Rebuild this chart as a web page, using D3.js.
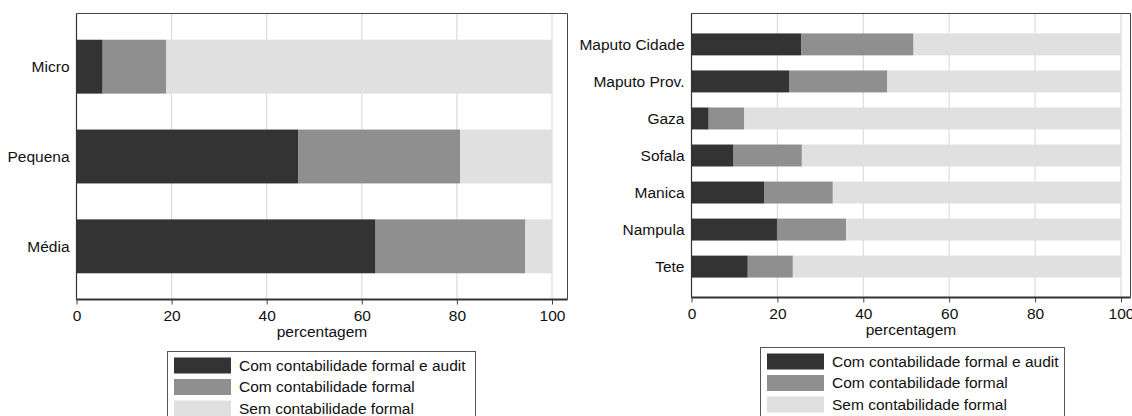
<!DOCTYPE html>
<html>
<head>
<meta charset="utf-8">
<script src="https://cdn.jsdelivr.net/npm/d3@7"></script>
<style>
  body { margin: 0; background: #fff; }
  text { font-family: "Liberation Sans", Arial, sans-serif; fill: #111; }
</style>
</head>
<body>
<div id="chart"></div>
<script>
// series names (legend)
var seriesNames = ["Com contabilidade formal e audit", "Com contabilidade formal", "Sem contabilidade formal"];
var seriesColors = ["#333333", "#8f8f8f", "#e0e0e0"];
var xTicks = [0, 20, 40, 60, 80, 100];

// left panel: by firm size
var sizeCats = ["Micro", "Pequena", "Média"];
var sizeAudit = [5.5, 46.6, 62.9];
var sizeFormal = [13.4, 34.1, 31.5];
var sizeNone = [81.1, 19.3, 5.6];

// right panel: by province
var provCats = ["Maputo Cidade", "Maputo Prov.", "Gaza", "Sofala", "Manica", "Nampula", "Tete"];
var provAudit = [25.6, 22.7, 4.0, 9.8, 17.0, 19.9, 13.1];
var provFormal = [26.1, 22.9, 8.3, 15.9, 15.9, 16.1, 10.5];
var provNone = [48.3, 54.4, 87.7, 74.3, 67.1, 64.0, 76.4];

var fontSize = "15.5px";

var svg = d3.select("#chart").append("svg")
    .attr("width", 1132)
    .attr("height", 416);

var keys = ["audit", "formal", "none"];
var color = d3.scaleOrdinal().domain(keys).range(seriesColors);

function drawPanel(p) {
  var rows = p.cats.map(function(c, i) {
    return {cat: c, audit: p.audit[i], formal: p.formal[i], none: p.none[i]};
  });

  var x = d3.scaleLinear().domain([0, 100]).range([p.x0, p.x100]);
  var y = d3.scaleBand().domain(p.cats)
      .range([p.top, p.axisY])
      .paddingInner(p.padIn)
      .paddingOuter(p.padOut);

  var g = svg.append("g");

  // gridlines
  g.selectAll(".grid")
      .data(xTicks.slice(1))
      .enter().append("line")
      .attr("x1", function(d) { return x(d); })
      .attr("x2", function(d) { return x(d); })
      .attr("y1", p.top)
      .attr("y2", p.axisY)
      .attr("stroke", "#dcdcdc")
      .attr("stroke-width", 1.2);

  // stacked bars
  var stacked = d3.stack().keys(keys)(rows);
  g.selectAll(".layer")
      .data(stacked)
      .enter().append("g")
      .attr("fill", function(d) { return color(d.key); })
      .selectAll("rect")
      .data(function(d) { return d; })
      .enter().append("rect")
      .attr("x", function(d) { return x(d[0]); })
      .attr("width", function(d) { return x(d[1]) - x(d[0]); })
      .attr("y", function(d) { return y(d.data.cat); })
      .attr("height", y.bandwidth());

  // frame: top and right
  g.append("path")
      .attr("d", "M" + p.x0 + "," + p.top + "H" + p.right + "V" + p.axisY)
      .attr("fill", "none")
      .attr("stroke", "#444")
      .attr("stroke-width", 1);

  // left axis line
  g.append("line")
      .attr("x1", p.x0).attr("x2", p.x0)
      .attr("y1", p.top).attr("y2", p.axisY)
      .attr("stroke", "#333").attr("stroke-width", 1.2);

  // category labels
  g.selectAll(".ylab")
      .data(p.cats)
      .enter().append("text")
      .attr("x", p.x0 - 7)
      .attr("y", function(d) { return y(d) + y.bandwidth() / 2; })
      .attr("dy", "0.35em")
      .attr("text-anchor", "end")
      .style("font-size", fontSize)
      .text(function(d) { return d; });

  // x axis
  var ax = g.append("g")
      .attr("transform", "translate(0," + p.axisY + ")")
      .call(d3.axisBottom(x).tickValues(xTicks).tickSize(5).tickPadding(5));
  ax.select(".domain").remove();
  ax.append("line")
      .attr("x1", p.x0).attr("x2", p.right)
      .attr("stroke", "#333").attr("stroke-width", 2);
  ax.selectAll(".tick line").attr("stroke", "#444");
  ax.selectAll(".tick text")
      .style("font-size", fontSize)
      .style("font-family", "Liberation Sans, Arial, sans-serif")
      .attr("fill", "#111");

  g.append("text")
      .attr("x", (p.x0 + p.right) / 2)
      .attr("y", p.axisY + 37)
      .attr("text-anchor", "middle")
      .style("font-size", fontSize)
      .text("percentagem");

  // legend
  var lg = g.append("g");
  lg.append("rect")
      .attr("x", p.legX).attr("y", p.legY)
      .attr("width", p.legW).attr("height", 90)
      .attr("fill", "#fff")
      .attr("stroke", "#555").attr("stroke-width", 1);
  var item = lg.selectAll(".item")
      .data(seriesNames)
      .enter().append("g")
      .attr("transform", function(d, i) {
        return "translate(" + (p.legX + 6.5) + "," + (p.legY + 6 + i * 21.5) + ")";
      });
  item.append("rect")
      .attr("width", 57).attr("height", 16)
      .attr("fill", function(d, i) { return seriesColors[i]; });
  item.append("text")
      .attr("x", 65)
      .attr("y", 8)
      .attr("dy", "0.35em")
      .style("font-size", fontSize)
      .text(function(d) { return d; });
}

drawPanel({
  cats: sizeCats, audit: sizeAudit, formal: sizeFormal, none: sizeNone,
  x0: 76.5, x100: 552, right: 567.5, top: 13.5, axisY: 299.5,
  padIn: 0.4, padOut: 0.292,
  legX: 167.5, legY: 351.5, legW: 308
});

drawPanel({
  cats: provCats, audit: provAudit, formal: provFormal, none: provNone,
  x0: 691.5, x100: 1121, right: 1130.5, top: 13.5, axisY: 297.5,
  padIn: 0.407, padOut: 0.538,
  legX: 760.5, legY: 347.5, legW: 304
});
</script>
</body>
</html>
